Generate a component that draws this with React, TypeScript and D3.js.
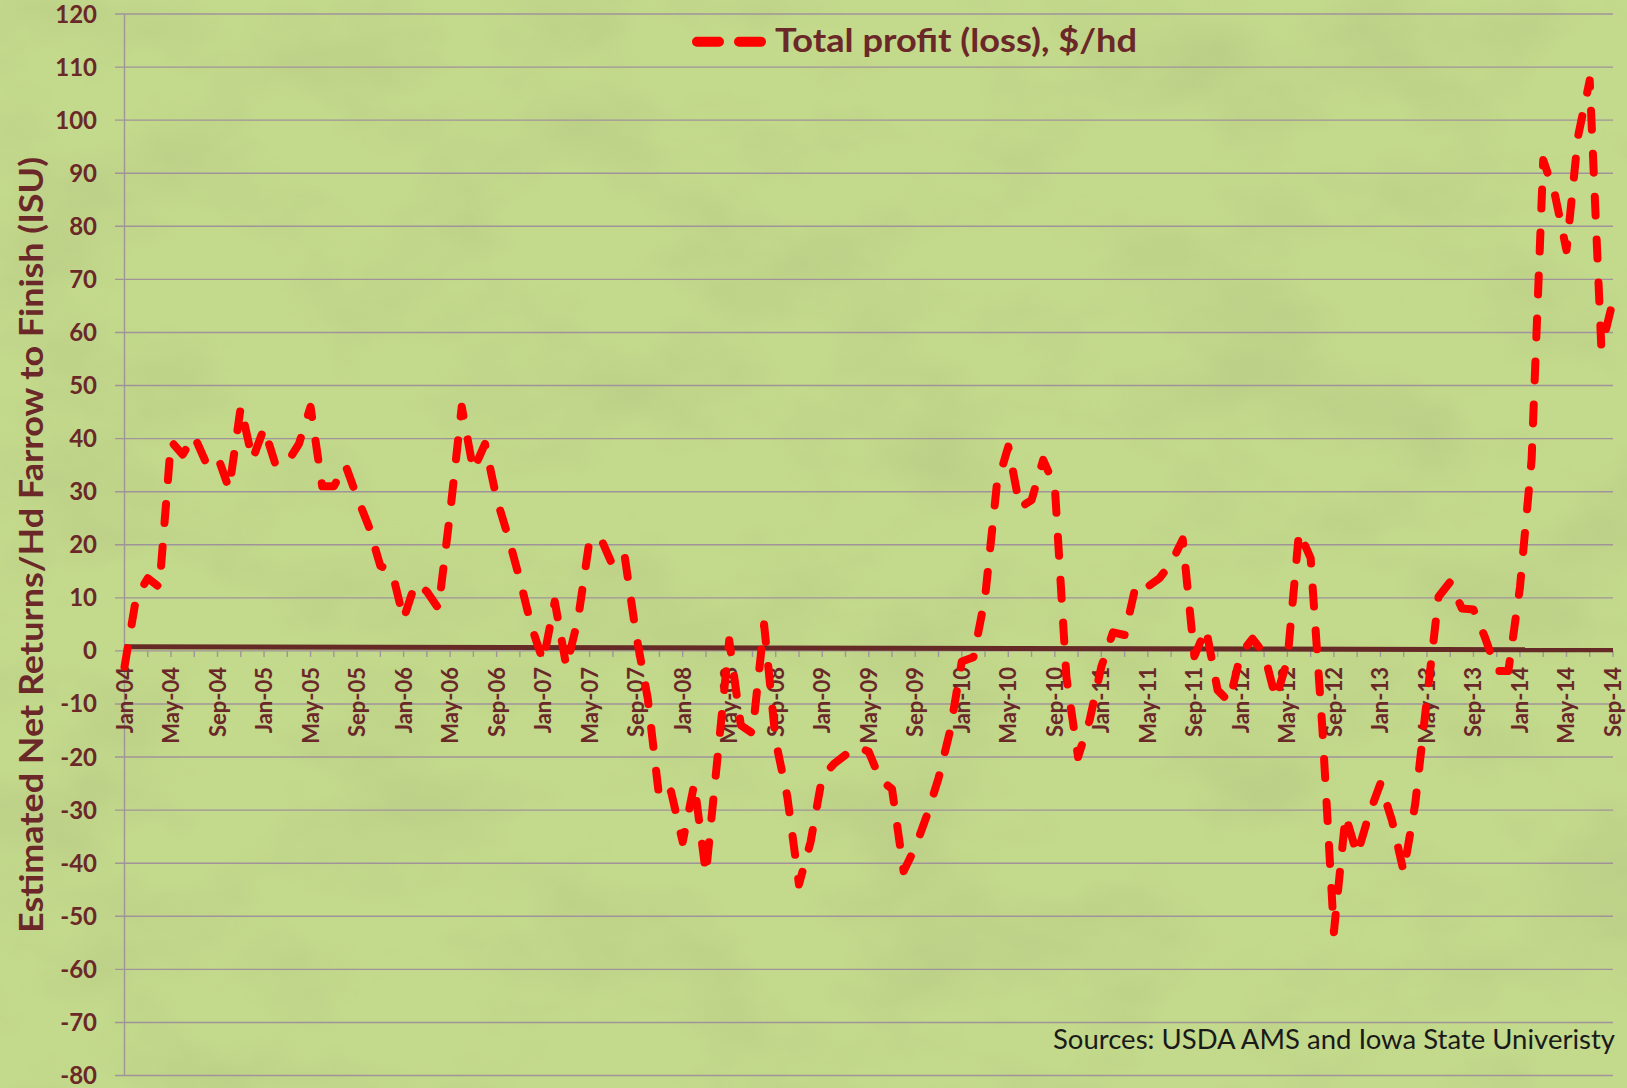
import React from 'react';
import * as d3 from 'd3';

const W = 1627;
const H = 1088;

const START_YEAR = 2004;
const MONTH_NAMES = ['Jan', 'Feb', 'Mar', 'Apr', 'May', 'Jun', 'Jul', 'Aug', 'Sep', 'Oct', 'Nov', 'Dec'];

// Estimated net returns per head, farrow to finish ($/hd), monthly Jan-04 .. Sep-14
const profit2004 = [-3, 10, 13.7, 12, 39.5, 37, 40.5, 35.5, 36.7, 30.5, 46, 36];
const profit2005 = [42, 35, 35.5, 39, 46, 31, 31, 35, 29, 23.5, 16, 15];
const profit2006 = [6, 12.7, 11.2, 8, 26, 46, 34, 39, 28.7, 21.5, 13.4, 4.6];
const profit2007 = [-2, 9.3, -3, 6, 21, 21, 16, 18, 3, -9, -28, -26.5];
const profit2008 = [-36, -25, -42, -20, 2, -14, -15.5, 5, -17, -27.5, -44, -36];
const profit2009 = [-23.7, -21.3, -19.6, -18, -19, -24.3, -26, -41.5, -37, -31, -24, -15];
const profit2010 = [-2, -1.2, 10, 31, 38.5, 27, 28.4, 36, 31, -5, -20, -13];
const profit2011 = [-3, 3.5, 3, 12.7, 12.1, 13.7, 16.5, 21, -1, 4.2, -7.4, -9.6];
const profit2012 = [-0.5, 2.3, -0.5, -9, -1.8, 22.4, 17.5, -14.3, -53, -31, -38.4, -31];
const profit2013 = [-25, -32, -41.6, -28.7, -9, 10.2, 13, 8, 7.8, 2.5, -3.8, -3.8];
const profit2014 = [12, 36, 92.5, 86, 75.5, 97, 107.5, 57, 66];

// Straight dark line near zero (first month, last month)
const baseLine = [0.8, 0.2];

const yTicks = d3.range(-80, 121, 10);

const SERIES_NAME = 'Total profit (loss), $/hd';
const Y_TITLE = 'Estimated Net Returns/Hd Farrow to Finish (ISU)';
const SOURCE = 'Sources: USDA AMS and Iowa State Univeristy';

const profit = [
  ...profit2004, ...profit2005, ...profit2006, ...profit2007, ...profit2008,
  ...profit2009, ...profit2010, ...profit2011, ...profit2012, ...profit2013, ...profit2014,
];

const monthLabel = (i: number) => {
  const yr = START_YEAR + Math.floor(i / 12);
  return `${MONTH_NAMES[i % 12]}-${String(yr % 100).padStart(2, '0')}`;
};

const MAROON = '#6a2828';
const GRID = '#a0949a';
const FONT = 'Lato, "Open Sans", sans-serif';

export default function App() {
  const n = profit.length;
  const x = d3.scaleLinear().domain([0, n - 1]).range([124.5, 1613]);
  const y = d3.scaleLinear().domain([-80, 120]).range([1075.5, 14]);

  const line = d3
    .line<number>()
    .x((_, i) => x(i))
    .y((d) => y(d));

  const labelIdx = d3.range(0, n, 4);
  const minorIdx = d3.range(0, n, 2);

  return (
    <svg
      width={W}
      height={H}
      style={{ position: 'absolute', left: 0, top: 0, display: 'block' }}
      xmlns="http://www.w3.org/2000/svg"
    >
      <defs>
        <filter id="paper" x="0" y="0" width="100%" height="100%">
          <feTurbulence type="fractalNoise" baseFrequency="0.006 0.009" numOctaves="4" seed="7" result="n" />
          <feColorMatrix
            in="n"
            type="matrix"
            values="0 0 0 0 0.42  0 0 0 0 0.52  0 0 0 0 0.22  2.4 0 0 0 -1.05"
          />
        </filter>
      </defs>
      <rect x={0} y={0} width={W} height={H} fill="#c3d98b" />
      <rect x={0} y={0} width={W} height={H} filter="url(#paper)" opacity={0.35} />

      {/* gridlines */}
      {yTicks.map((t) => (
        <line key={t} x1={115} x2={1613} y1={y(t)} y2={y(t)} stroke={GRID} strokeWidth={1.4} />
      ))}
      {/* y axis */}
      <line x1={124.5} x2={124.5} y1={y(120)} y2={y(-80)} stroke={GRID} strokeWidth={1.4} />
      {/* x axis minor ticks */}
      {minorIdx.map((i) => (
        <line key={i} x1={x(i)} x2={x(i)} y1={y(0)} y2={y(0) + 6} stroke={GRID} strokeWidth={1.4} />
      ))}

      {/* y tick labels */}
      {yTicks.map((t) => (
        <text
          key={t}
          x={97}
          y={y(t) + 8.5}
          textAnchor="end"
          fontFamily={FONT}
          fontWeight={700}
          fontSize={24}
          fill={MAROON}
        >
          {t}
        </text>
      ))}

      {/* x tick labels */}
      {labelIdx.map((i) => (
        <text
          key={i}
          transform={`translate(${x(i) + 8},${667}) rotate(-90)`}
          textAnchor="end"
          fontFamily={FONT}
          fontWeight={700}
          fontSize={22}
          fill={MAROON}
        >
          {monthLabel(i)}
        </text>
      ))}

      {/* near-zero dark line */}
      <line
        x1={x(0)}
        x2={x(n - 1)}
        y1={y(baseLine[0])}
        y2={y(baseLine[1])}
        stroke="#652a26"
        strokeWidth={5}
      />

      {/* profit line */}
      <path
        d={line(profit) || ''}
        fill="none"
        stroke="#ff0000"
        strokeWidth={8}
        strokeDasharray="19 24"
        strokeLinecap="round"
        strokeLinejoin="round"
      />

      {/* legend */}
      <line
        x1={697}
        x2={761}
        y1={41.7}
        y2={41.7}
        stroke="#ff0000"
        strokeWidth={10}
        strokeDasharray="22 20"
        strokeLinecap="round"
      />
      <text
        x={775}
        y={52}
        fontFamily={FONT}
        fontWeight={700}
        fontSize={32}
        fill={MAROON}
        textLength={362}
        lengthAdjust="spacingAndGlyphs"
      >
        {SERIES_NAME}
      </text>

      {/* y title */}
      <text
        transform={`translate(43,545) rotate(-90)`}
        textAnchor="middle"
        fontFamily={FONT}
        fontWeight={700}
        fontSize={33}
        fill={MAROON}
        textLength={776}
        lengthAdjust="spacingAndGlyphs"
      >
        {Y_TITLE}
      </text>

      {/* source */}
      <text
        x={1615}
        y={1049}
        textAnchor="end"
        fontFamily={FONT}
        fontSize={26}
        fill="#1a1a1a"
        textLength={562}
        lengthAdjust="spacingAndGlyphs"
      >
        {SOURCE}
      </text>
    </svg>
  );
}
